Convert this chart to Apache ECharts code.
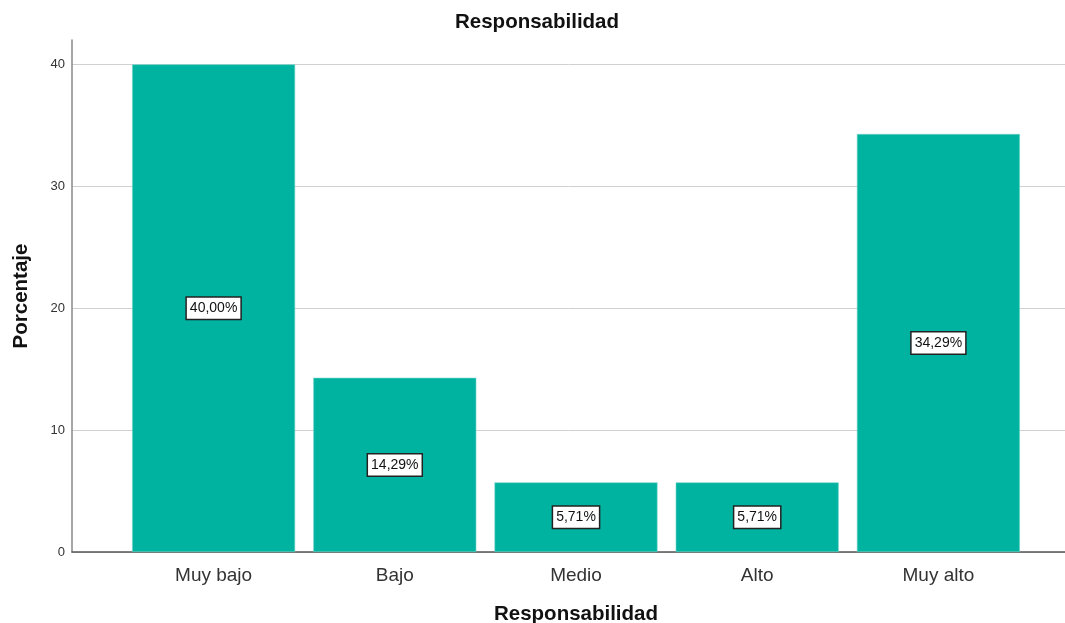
<!DOCTYPE html>
<html>
<head>
<meta charset="utf-8">
<script src="https://cdn.jsdelivr.net/npm/echarts@6/dist/echarts.min.js"></script>
<style>
html,body{margin:0;padding:0;background:#fff;}
#chart{width:1065px;height:623px;}
</style>
</head>
<body>
<div id="chart"></div>
<script>
const categories = ['Muy bajo', 'Bajo', 'Medio', 'Alto', 'Muy alto'];
const percentages = [40.00, 14.29, 5.71, 5.71, 34.29];
const chartTitle = 'Responsabilidad';
const xAxisTitle = 'Responsabilidad';
const yAxisTitle = 'Porcentaje';
const yMin = 0, yMax = 42, yStep = 10;

const FONT = '"Liberation Sans", Arial, sans-serif';
const chart = echarts.init(document.getElementById('chart'), null, {renderer: 'canvas'});

const gridColors = [];
for (let v = yMin; v <= yMax; v += yStep) gridColors.push('#d0d0d0');
gridColors.push('rgba(0,0,0,0)');

chart.setOption({
  animation: false,
  backgroundColor: '#fff',
  textStyle: {fontFamily: FONT},
  title: {
    text: chartTitle,
    left: 455, top: 12, padding: 0,
    textStyle: {fontFamily: FONT, fontSize: 20.5, fontWeight: 'bold', color: '#111'}
  },
  grid: [
    {left: 72, right: 0, top: 40, bottom: 71, containLabel: false, outerBoundsMode: 'none'},
    {left: 123, right: 36, top: 40, bottom: 71, containLabel: false, outerBoundsMode: 'none'}
  ],
  xAxis: [
    {
      type: 'value', gridIndex: 0, min: 0, max: 1,
      axisLine: {show: true, lineStyle: {color: '#555', width: 1.5}},
      axisTick: {show: false}, axisLabel: {show: false}, splitLine: {show: false}
    },
    {
      type: 'category', gridIndex: 1, data: categories,
      axisLine: {show: false}, axisTick: {show: false},
      axisLabel: {fontFamily: FONT, fontSize: 19, color: '#333', margin: 14},
      name: xAxisTitle, nameLocation: 'middle', nameGap: 52,
      nameTextStyle: {fontFamily: FONT, fontSize: 20.5, fontWeight: 'bold', color: '#111'}
    }
  ],
  yAxis: [
    {
      type: 'value', gridIndex: 0, min: yMin, max: yMax, interval: yStep,
      axisLine: {show: true, lineStyle: {color: '#888', width: 1.5}},
      axisTick: {show: false},
      axisLabel: {fontFamily: FONT, fontSize: 13, color: '#333', margin: 7, showMaxLabel: false,
        formatter: v => (v % yStep === 0 ? String(v) : '')},
      splitLine: {show: true, lineStyle: {color: gridColors, width: 1}},
      name: yAxisTitle, nameLocation: 'middle', nameGap: 40,
      nameTextStyle: {fontFamily: FONT, fontSize: 20.5, fontWeight: 'bold', color: '#111'}
    },
    {
      type: 'value', gridIndex: 1, min: yMin, max: yMax, interval: yStep,
      show: false, splitLine: {show: false}
    }
  ],
  series: [{
    type: 'bar',
    xAxisIndex: 1, yAxisIndex: 1,
    data: percentages,
    barWidth: 163,
    itemStyle: {color: '#00b3a1', borderColor: '#6fd3c7', borderWidth: 0.6},
    label: {
      show: true, position: 'inside',
      formatter: p => p.value.toFixed(2).replace('.', ',') + '%',
      fontFamily: FONT, fontSize: 14, color: '#111',
      backgroundColor: '#fff', borderColor: '#222', borderWidth: 1.5,
      padding: [4, 3, 3, 3]
    }
  }]
});
</script>
</body>
</html>
